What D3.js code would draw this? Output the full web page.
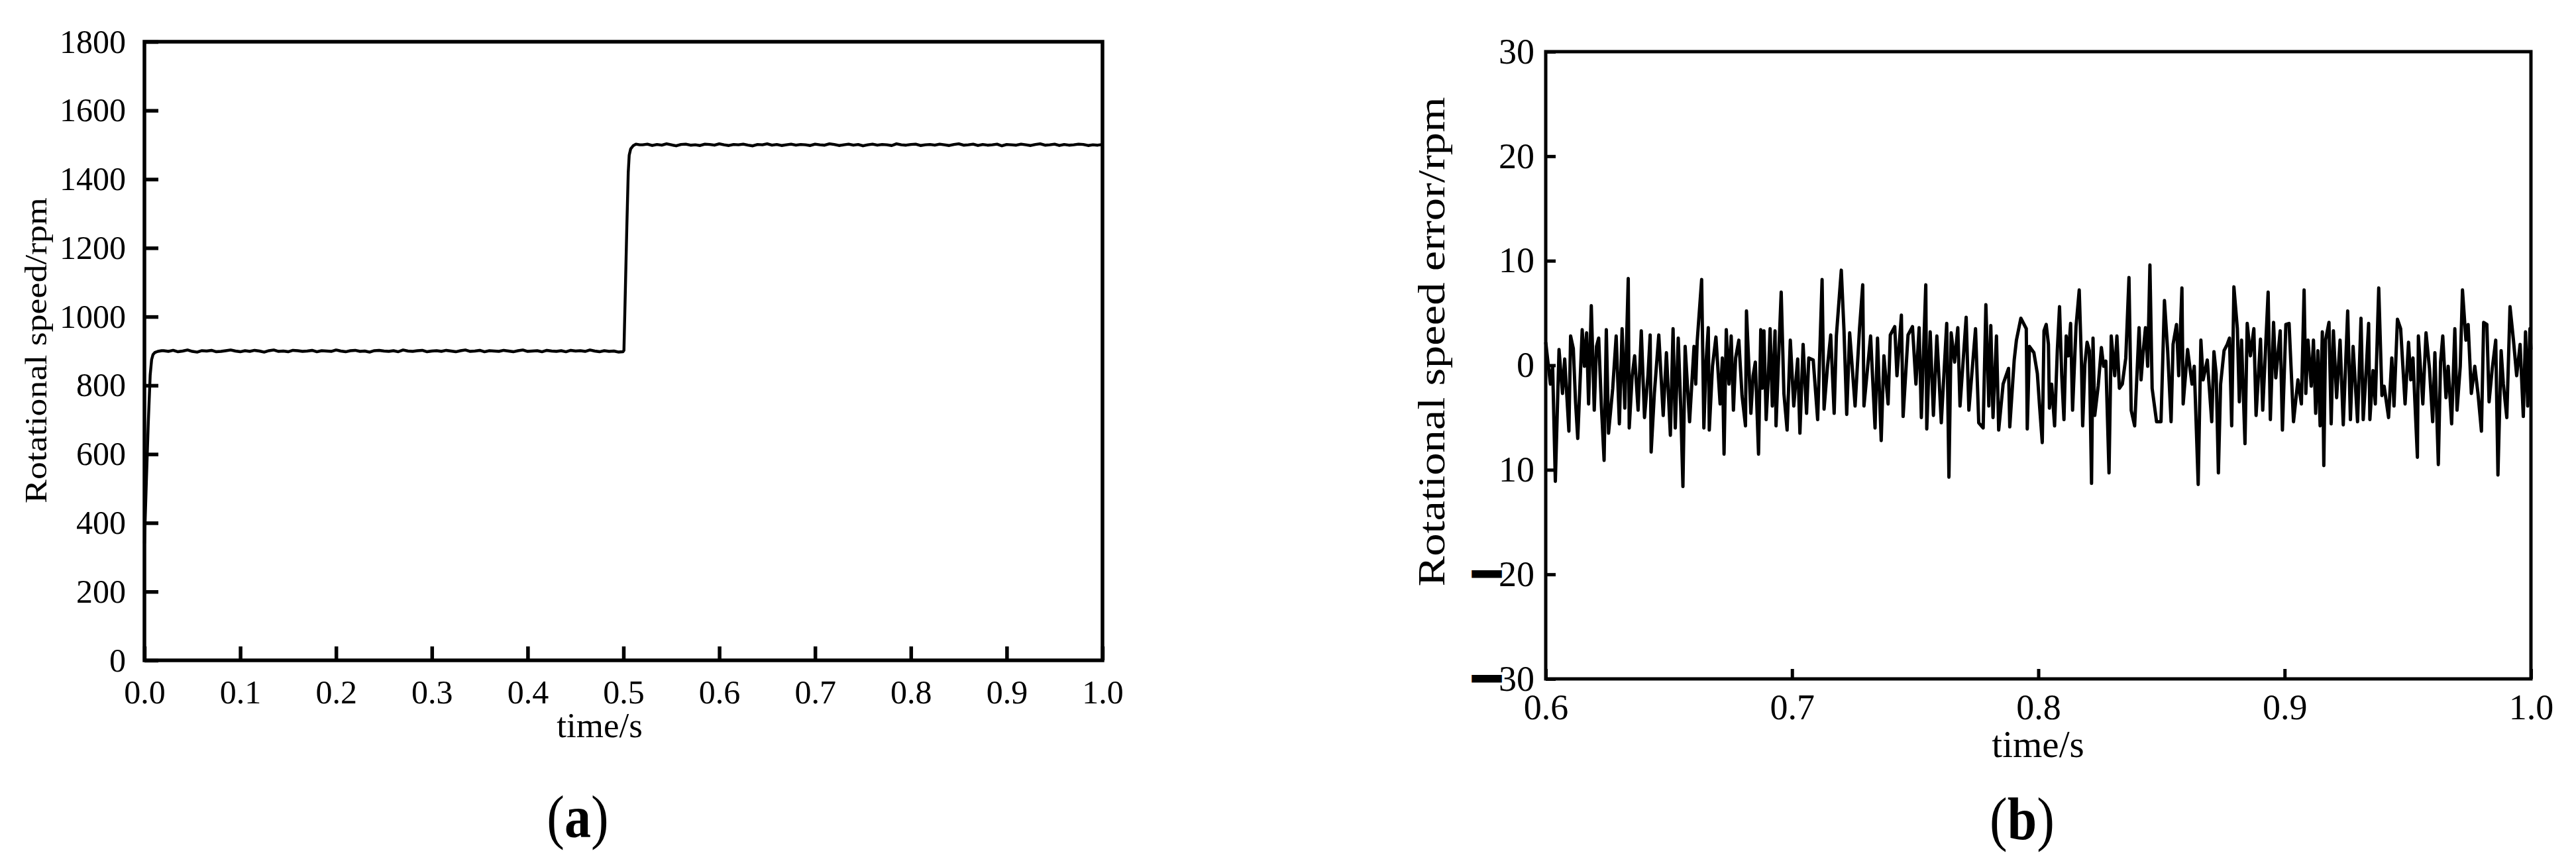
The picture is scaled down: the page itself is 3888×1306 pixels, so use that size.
<!DOCTYPE html>
<html>
<head>
<meta charset="utf-8">
<script src="https://cdn.jsdelivr.net/npm/d3@7"></script>
<style>
  body { margin: 0; background: #fff; }
</style>
</head>
<body>
<div id="chart"></div>
<script>
// ---------------------------------------------------------------- DATA ----------------------------------------------------------- //
// (a) rotational speed, time in ms
const speedTimeMs = [
  0, 2, 4, 6, 7.5, 9, 11, 14, 18,
  20, 25, 30, 35, 40, 45, 50, 55, 60, 65, 70, 75, 80, 85, 90, 95, 100, 105, 110, 115, 120, 125, 130, 135, 140, 145,
  150, 155, 160, 165, 170, 175, 180, 185, 190, 195, 200, 205, 210, 215, 220, 225, 230, 235, 240, 245, 250, 255, 260,
  265, 270, 275, 280, 285, 290, 295, 300, 305, 310, 315, 320, 325, 330, 335, 340, 345, 350, 355, 360, 365, 370, 375,
  380, 385, 390, 395, 400, 405, 410, 415, 420, 425, 430, 435, 440, 445, 450, 455, 460, 465, 470, 475, 480, 485, 490, 495,
  499.5, 500.5, 502, 503.5, 505, 506, 507.5, 510, 513, 517,
  520, 525, 530, 535, 540, 545, 550, 555, 560, 565, 570, 575, 580, 585, 590, 595, 600, 605, 610, 615, 620, 625, 630,
  635, 640, 645, 650, 655, 660, 665, 670, 675, 680, 685, 690, 695, 700, 705, 710, 715, 720, 725, 730, 735, 740, 745,
  750, 755, 760, 765, 770, 775, 780, 785, 790, 795, 800, 805, 810, 815, 820, 825, 830, 835, 840, 845, 850, 855, 860,
  865, 870, 875, 880, 885, 890, 895, 900, 905, 910, 915, 920, 925, 930, 935, 940, 945, 950, 955, 960, 965, 970, 975,
  980, 985, 990, 995, 1000
];
const speedRpm = [
  340, 520, 690, 830, 875, 890, 896, 899, 901,
  901, 899, 902, 898, 900, 903, 899, 897, 901, 900, 902, 898, 899, 901, 903, 900, 898, 901, 899, 902,
  900, 897, 901, 903, 899, 900, 898, 902, 901, 899, 900, 902, 898, 901, 900, 899, 903, 900, 898, 901,
  902, 899, 900, 897, 901, 902, 900, 899, 901, 898, 903, 900, 899, 901, 902, 898, 900, 901, 899, 902,
  900, 898, 901, 903, 899, 900, 902, 898, 901, 900, 899, 902, 900, 898, 901, 903, 899, 900, 901, 898,
  902, 900, 899, 901, 898, 902, 900, 901, 899, 903, 900, 898, 901, 899, 900, 897,
  898, 902, 1080, 1260, 1420, 1470, 1488, 1497, 1502, 1500,
  1500, 1502, 1498, 1501, 1499, 1503, 1500, 1497, 1501, 1502, 1499, 1500, 1498, 1502, 1501, 1499, 1503, 1500, 1498, 1501,
  1500, 1502, 1499, 1497, 1501, 1500, 1503, 1499, 1501, 1498, 1500, 1502, 1499, 1501, 1500, 1498, 1502, 1500, 1499, 1503,
  1501, 1498, 1500, 1502, 1499, 1501, 1497, 1500, 1502, 1499, 1501, 1500, 1498, 1503, 1500, 1499, 1501, 1502, 1498, 1500,
  1501, 1499, 1502, 1500, 1498, 1501, 1503, 1499, 1500, 1502, 1498, 1501, 1499, 1500, 1502, 1497, 1501, 1500, 1499, 1502,
  1500, 1498, 1501, 1503, 1499, 1500, 1502, 1498, 1501, 1499, 1500, 1502, 1501, 1498, 1500, 1499, 1501
];
const speedXTicks = [0, 0.1, 0.2, 0.3, 0.4, 0.5, 0.6, 0.7, 0.8, 0.9, 1.0];
const speedYTicks = [0, 200, 400, 600, 800, 1000, 1200, 1400, 1600, 1800];

// (b) rotational speed error, time in s
const errTime = [
  0.6000, 0.6019, 0.6028, 0.6039, 0.6054, 0.6068, 0.6077, 0.6094, 0.6101, 0.6112,
  0.6121, 0.6130, 0.6148, 0.6157, 0.6166, 0.6174, 0.6185, 0.6197, 0.6206, 0.6215,
  0.6226, 0.6237, 0.6246, 0.6255, 0.6272, 0.6286, 0.6299, 0.6310, 0.6321, 0.6335,
  0.6339, 0.6351, 0.6361, 0.6375, 0.6388, 0.6401, 0.6415, 0.6424, 0.6428, 0.6441,
  0.6459, 0.6477, 0.6490, 0.6506, 0.6517, 0.6526, 0.6538, 0.6548, 0.6557, 0.6566,
  0.6584, 0.6602, 0.6609, 0.6615, 0.6633, 0.6642, 0.6651, 0.6660, 0.6664, 0.6677,
  0.6691, 0.6708, 0.6717, 0.6724, 0.6733, 0.6744, 0.6753, 0.6762, 0.6771, 0.6784,
  0.6797, 0.6811, 0.6815, 0.6833, 0.6842, 0.6851, 0.6864, 0.6873, 0.6879, 0.6886,
  0.6895, 0.6904, 0.6911, 0.6920, 0.6931, 0.6935, 0.6944, 0.6956, 0.6967, 0.6980,
  0.6993, 0.7007,
  0.7023, 0.7032, 0.7045, 0.7059, 0.7068, 0.7086, 0.7104, 0.7122, 0.7130, 0.7144,
  0.7157, 0.7171, 0.7180, 0.7200, 0.7211, 0.7222, 0.7234, 0.7256, 0.7274, 0.7287,
  0.7292, 0.7319, 0.7337, 0.7347, 0.7362, 0.7373, 0.7390, 0.7399, 0.7417, 0.7426,
  0.7444, 0.7451, 0.7471, 0.7489, 0.7503, 0.7516, 0.7525, 0.7543, 0.7547, 0.7561,
  0.7574, 0.7588, 0.7606, 0.7628, 0.7637, 0.7646, 0.7660, 0.7673, 0.7682, 0.7707,
  0.7718, 0.7745, 0.7758, 0.7776, 0.7787, 0.7799, 0.7807, 0.7816, 0.7830, 0.7839,
  0.7857, 0.7879, 0.7884, 0.7902, 0.7911, 0.7929, 0.7951, 0.7955, 0.7964, 0.7982,
  0.7996, 0.8005, 0.8016, 0.8023, 0.8032, 0.8041, 0.8045, 0.8054, 0.8066, 0.8077,
  0.8086, 0.8095, 0.8104, 0.8113, 0.8122, 0.8131, 0.8139, 0.8153, 0.8166, 0.8175,
  0.8180, 0.8189, 0.8198, 0.8207, 0.8216, 0.8222, 0.8229, 0.8243, 0.8256, 0.8265,
  0.8274, 0.8287, 0.8296, 0.8310, 0.8319, 0.8329, 0.8341, 0.8355, 0.8368, 0.8377,
  0.8391, 0.8409, 0.8417, 0.8426, 0.8435, 0.8444, 0.8453, 0.8462, 0.8480, 0.8498,
  0.8512, 0.8525, 0.8539, 0.8547, 0.8561, 0.8570, 0.8583, 0.8588, 0.8606, 0.8624,
  0.8633, 0.8649, 0.8660, 0.8669, 0.8686, 0.8704, 0.8713, 0.8722, 0.8731, 0.8740,
  0.8754, 0.8767, 0.8776, 0.8785, 0.8794, 0.8808, 0.8816, 0.8825, 0.8839, 0.8848,
  0.8861, 0.8875, 0.8884, 0.8902, 0.8911, 0.8933, 0.8942, 0.8955, 0.8964, 0.8982,
  0.8991, 0.9005, 0.9018, 0.9036,
  0.9054, 0.9068, 0.9079, 0.9086, 0.9095, 0.9108, 0.9117, 0.9126, 0.9135, 0.9144,
  0.9153, 0.9159, 0.9166, 0.9180, 0.9189, 0.9198, 0.9211, 0.9225, 0.9238, 0.9256,
  0.9267, 0.9278, 0.9296, 0.9310, 0.9319, 0.9332, 0.9341, 0.9346, 0.9359, 0.9368,
  0.9382, 0.9395, 0.9404, 0.9422, 0.9435, 0.9444, 0.9458, 0.9471, 0.9489, 0.9503,
  0.9512, 0.9521, 0.9530, 0.9539, 0.9543, 0.9561, 0.9574, 0.9588, 0.9601, 0.9610,
  0.9624, 0.9633, 0.9642, 0.9655, 0.9664, 0.9678, 0.9691, 0.9700, 0.9713, 0.9722,
  0.9736, 0.9745, 0.9758, 0.9772, 0.9785, 0.9799, 0.9808, 0.9821, 0.9830, 0.9843,
  0.9857, 0.9866, 0.9879, 0.9888, 0.9902, 0.9915, 0.9929, 0.9942, 0.9956, 0.9969,
  0.9978, 0.9987, 0.9996, 1.0000
];
const errValue = [
  2.2, -1.8, -0.1, -11.1, 1.5, -2.7, 0.6, -6.3, 2.8, 1.6,
  -3.5, -7.0, 3.4, -0.1, 3.1, -3.7, 5.7, -4.3, 1.8, 2.6,
  -3.9, -9.1, 3.4, -6.5, -2.2, 2.8, -5.6, 3.5, -4.1, 8.3,
  -6.0, -1.0, 0.9, -4.3, 3.3, -5.0, -1.0, 2.9, -8.3, -2.7,
  2.9, -4.8, 1.2, -6.7, 3.5, -6.0, 2.6, -3.9, -11.6, 1.8,
  -5.4, 1.8, -1.8, 2.3, 8.2, -6.0, 0.3, 3.6, -6.2, -0.1,
  2.7, -3.7, 0.7, -8.5, 3.4, -1.8, 2.8, -4.3, 0.7, 2.4,
  -2.9, -5.8, 5.2, -4.6, -1.0, 0.3, -8.5, 3.4, -2.2, 3.3,
  -5.2, -1.0, 3.5, -3.9, 3.3, -5.8, -0.1, 7.0, -2.7, -6.2,
  2.4, -3.9,
  0.6, -6.5, 2.0, -4.6, 0.7, 0.5, -5.2, 8.2, -4.2, -0.1,
  2.9, -4.6, 2.8, 9.1, 3.3, -4.7, 3.1, -3.9, 3.5, 7.7,
  -3.9, 2.8, -6.0, 2.6, -7.2, 0.9, -3.7, 2.9, 3.7, -1.0,
  4.8, -4.9, 2.9, 3.7, -1.8, 3.6, -5.0, 7.7, -6.1, 3.2,
  -4.8, 2.8, -5.5, 4.0, -10.7, 3.1, 0.3, 3.6, -3.9, 4.6,
  -4.3, 3.5, -5.5, -6.0, 5.8, -3.9, 3.8, -5.0, 2.8, -6.2,
  -1.8, -0.3, -5.9, 0.5, 2.4, 4.5, 3.5, -6.1, 1.8, 1.2,
  -0.8, -3.9, -7.4, 3.3, 3.9, 2.0, -4.1, -1.8, -5.8, 1.4,
  5.6, -1.0, -5.2, 2.8, 0.9, 4.0, -4.3, 3.7, 7.2, 0.3,
  -5.8, 0.1, 2.2, 1.4, -11.3, 2.6, -4.8, -2.0, 1.7, -0.1,
  0.4, -10.3, 2.8, -1.0, 2.8, -2.2, -1.8, 0.7, 8.4, -4.3,
  -5.8, 3.6, -1.4, 1.4, 3.6, -0.1, 9.6, -2.2, -5.4, -5.4,
  6.2, 1.4, -5.4, 2.0, 3.9, -1.0, 7.4, -3.7, 1.5, -1.8,
  -0.1, -11.4, 2.4, -1.4, 0.5, -5.4, 1.3, -0.8, -10.3, -1.8,
  1.4, 2.0, 2.6, -5.8, 7.5, 3.5, -3.5, 2.4, -7.5, 4.0,
  0.9, 3.5, -4.8, 2.5, -4.3, 7.0, -5.2, 4.1, -1.2, 3.3,
  -6.2, 3.9, 4.0, -5.4,
  -1.4, -3.7, 7.2, -2.7, 2.4, -2.0, 2.4, -4.6, 1.4, -5.8,
  3.2, -9.6, 2.4, 4.1, -5.6, 3.3, -3.1, 2.4, -5.7, 5.2,
  -5.2, 1.8, -5.4, 4.5, -5.2, -0.1, 4.0, -5.2, -0.5, -3.7,
  7.4, -2.9, -2.0, -5.0, 0.7, -3.9, 4.4, 3.5, -3.7, 2.2,
  -1.4, 0.7, -4.1, -8.8, 2.8, -3.7, 3.1, -0.3, -5.4, 1.2,
  -9.5, 0.3, 2.8, -3.1, -0.1, -5.6, 3.5, -4.3, -0.1, 7.2,
  2.4, 3.9, -2.7, -0.1, -2.7, -6.3, 4.1, 3.9, -3.5, -0.3,
  2.4, -10.5, 1.4, -1.8, -5.0, 5.6, 2.4, -1.0, 2.0, -4.9,
  3.2, -3.9, 3.5, 1.5
];
const errXTicks = [0.6, 0.7, 0.8, 0.9, 1.0];
const errYTicks = [-30, -20, -10, 0, 10, 20, 30];
const errYTickLabels = ["—30", "—20", "10", "0", "10", "20", "30"];

// ---------------------------------------------------------------- SETUP ---------------------------------------------------------- //
const font = "'Liberation Serif', 'Times New Roman', Times, serif";

const svg = d3.select("#chart")
  .append("svg")
  .attr("width", 3888)
  .attr("height", 1306)
  .style("display", "block")
  .style("background", "#fff");

function styleAxis(g, fs, w) {
  g.select(".domain").remove();
  g.attr("font-family", font).attr("font-size", fs);
  g.selectAll(".tick line").attr("stroke", "#000").attr("stroke-width", w);
  g.selectAll(".tick text").attr("fill", "#000");
}

// ---------------------------------------------------------------- PANEL (a) ------------------------------------------------------ //
const xA = d3.scaleLinear().domain([0, 1]).range([218, 1664]);
const yA = d3.scaleLinear().domain([0, 1800]).range([997, 63]);

const gA = svg.append("g");

gA.append("g")
  .attr("transform", "translate(0," + yA(0) + ")")
  .call(d3.axisBottom(xA).tickValues(speedXTicks).tickSize(-21).tickPadding(29).tickFormat(d3.format(".1f")))
  .call(styleAxis, 50, 5.5);

gA.append("g")
  .attr("transform", "translate(" + xA(0) + ",0)")
  .call(d3.axisLeft(yA).tickValues(speedYTicks).tickSize(-21).tickPadding(28).tickFormat(d3.format("d")))
  .call(styleAxis, 50, 5.5);

gA.append("rect")
  .attr("x", xA(0)).attr("y", yA(1800))
  .attr("width", xA(1) - xA(0)).attr("height", yA(0) - yA(1800))
  .attr("fill", "none").attr("stroke", "#000").attr("stroke-width", 5.5);

const speedLine = d3.line()
  .x(d => xA(d[0] / 1000))
  .y(d => yA(d[1]));

gA.append("path")
  .datum(d3.zip(speedTimeMs, speedRpm))
  .attr("d", speedLine)
  .attr("fill", "none").attr("stroke", "#000")
  .attr("stroke-width", 4.4).attr("stroke-linejoin", "round");

gA.append("text")
  .attr("transform", "translate(70,529) rotate(-90)")
  .attr("text-anchor", "middle")
  .attr("font-family", font).attr("font-size", 47)
  .attr("textLength", 462).attr("lengthAdjust", "spacingAndGlyphs")
  .text("Rotational speed/rpm");

gA.append("text")
  .attr("x", 905).attr("y", 1113)
  .attr("text-anchor", "middle")
  .attr("font-family", font).attr("font-size", 53)
  .text("time/s");

const capA = gA.append("text")
  .attr("transform", "translate(872,1264) scale(1,1.15)")
  .attr("text-anchor", "middle")
  .attr("font-family", font).attr("font-size", 80);
capA.append("tspan").text("(");
capA.append("tspan").attr("font-weight", "bold").text("a");
capA.append("tspan").text(")");

// ---------------------------------------------------------------- PANEL (b) ------------------------------------------------------ //
const xB = d3.scaleLinear().domain([0.6, 1]).range([2333, 3820]);
const yB = d3.scaleLinear().domain([-30, 30]).range([1025, 78]);

const gB = svg.append("g");

gB.append("g")
  .attr("transform", "translate(0," + yB(-30) + ")")
  .call(d3.axisBottom(xB).tickValues(errXTicks).tickSize(-15).tickPadding(23).tickFormat(d3.format(".1f")))
  .call(styleAxis, 54, 5);

const yAxisB = gB.append("g")
  .attr("transform", "translate(" + xB(0.6) + ",0)")
  .call(d3.axisLeft(yB).tickValues(errYTicks).tickSize(-15).tickPadding(17)
    .tickFormat((d, i) => errYTickLabels[i]))
  .call(styleAxis, 54, 5);

// the thick dash in front of -20 and -30
yAxisB.selectAll(".tick text").each(function () {
  const t = d3.select(this);
  const s = t.text();
  if (s.charAt(0) === "—") {
    t.text(null).attr("dy", null);
    t.append("tspan")
      .attr("font-size", 36).attr("font-weight", "bold")
      .attr("stroke", "#000").attr("stroke-width", 9)
      .attr("dy", 7.8)
      .text("—");
    t.append("tspan").attr("dy", 9.5).text(s.slice(1));
  }
});

gB.append("rect")
  .attr("x", xB(0.6)).attr("y", yB(30))
  .attr("width", xB(1) - xB(0.6)).attr("height", yB(-30) - yB(30))
  .attr("fill", "none").attr("stroke", "#000").attr("stroke-width", 5);

const errLine = d3.line()
  .x(d => xB(d[0]))
  .y(d => yB(d[1]));

gB.append("path")
  .datum(d3.zip(errTime, errValue))
  .attr("d", errLine)
  .attr("fill", "none").attr("stroke", "#000")
  .attr("stroke-width", 5).attr("stroke-linejoin", "round");

gB.append("text")
  .attr("transform", "translate(2180,516) rotate(-90)")
  .attr("text-anchor", "middle")
  .attr("font-family", font).attr("font-size", 56)
  .attr("textLength", 739).attr("lengthAdjust", "spacingAndGlyphs")
  .text("Rotational speed error/rpm");

gB.append("text")
  .attr("x", 3076).attr("y", 1143)
  .attr("text-anchor", "middle")
  .attr("font-family", font).attr("font-size", 57)
  .text("time/s");

const capB = gB.append("text")
  .attr("transform", "translate(3052,1267) scale(1,1.15)")
  .attr("text-anchor", "middle")
  .attr("font-family", font).attr("font-size", 80);
capB.append("tspan").text("(");
capB.append("tspan").attr("font-weight", "bold").text("b");
capB.append("tspan").text(")");
</script>
</body>
</html>
